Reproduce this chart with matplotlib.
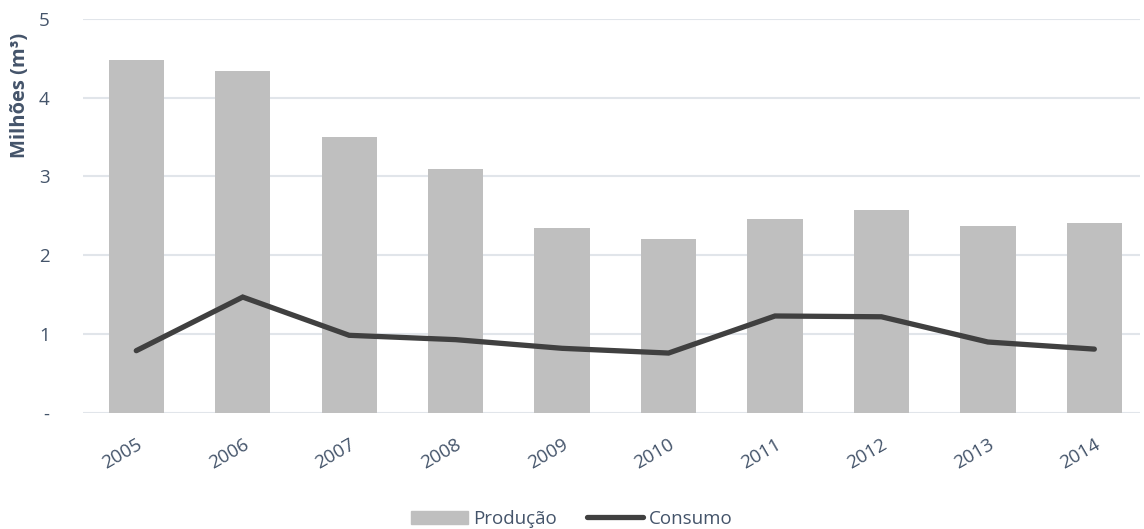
import matplotlib.pyplot as plt
from matplotlib.lines import Line2D
from matplotlib.patches import Patch

anos = ['2005', '2006', '2007', '2008', '2009', '2010', '2011', '2012', '2013', '2014']
producao = [4.47, 4.34, 3.50, 3.09, 2.35, 2.21, 2.46, 2.57, 2.37, 2.41]
consumo = [0.79, 1.47, 0.985, 0.93, 0.82, 0.76, 1.23, 1.22, 0.90, 0.81]

texto = '#44546A'
plt.rcParams['font.family'] = ['Open Sans', 'DejaVu Sans']

fig = plt.figure(figsize=(11.44, 5.29), dpi=100)
ax = fig.add_axes([0.0726, 0.2193, 0.924, 0.7454])

x = range(len(anos))
ax.bar(x, producao, width=0.52, color='#BFBFBF', zorder=2)
ax.plot(x, consumo, color='#404040', lw=3.8, solid_capstyle='round', solid_joinstyle='miter', zorder=3)

ax.set_xlim(-0.5, 9.43)
ax.set_ylim(0, 5)
ax.set_yticks([0, 1, 2, 3, 4, 5])
ax.set_yticklabels(['-', '1', '2', '3', '4', '5'])
ax.set_xticks(list(x))
ax.set_xticklabels(anos, rotation=30, ha='right', va='top', rotation_mode='anchor')

ax.grid(axis='y', color='#E1E5EA', lw=1.5, zorder=0)
for s in ax.spines.values():
    s.set_visible(False)
ax.tick_params(length=0, labelsize=13.5, colors=texto)
ax.tick_params(axis='y', pad=24)
ax.tick_params(axis='x', pad=16)
# rotulo do eixo y fica no alto, como no Excel
ax.set_ylabel('Milhões (m³)', fontsize=14.5, fontweight='bold', color=texto, va='center')
ax.yaxis.set_label_coords(-0.06, 0.805)

handles = [Patch(color='#BFBFBF'), Line2D([0], [0], color='#404040', lw=3.8, solid_capstyle='round')]
fig.legend(handles, ['Produção', 'Consumo'], loc='center', bbox_to_anchor=(0.5, 0.019),
           ncol=2, frameon=False, fontsize=13.5, labelcolor=texto, handlelength=3.0,
           handletextpad=0.3, columnspacing=1.6)

fig.savefig('out.png', dpi=100)
